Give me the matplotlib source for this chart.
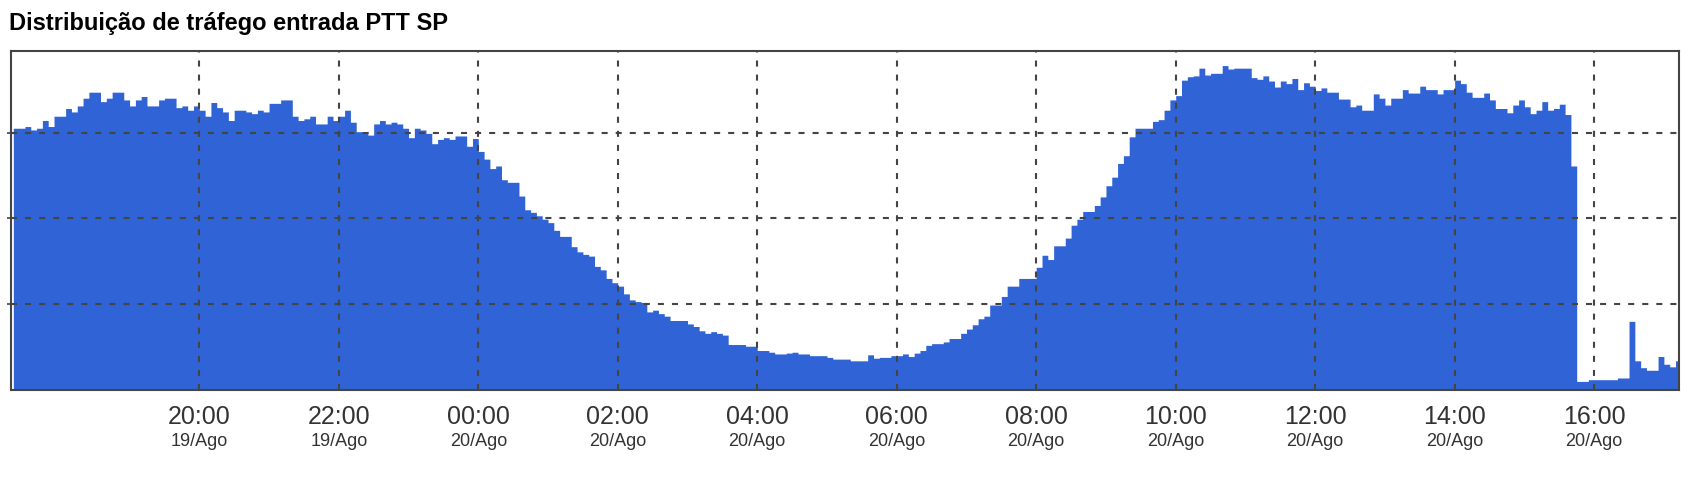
import numpy as np
import pandas as pd
import matplotlib
matplotlib.use("Agg")
import matplotlib.pyplot as plt
import matplotlib.dates as mdates

# Traffic distribution, 5 minute samples (relative units, grid lines at 1, 2, 3)
title = "Distribuição de tráfego entrada PTT SP"
first_sample = "2012-08-19 17:20"
sample_freq = "5min"
x_start = "2012-08-19 17:18"
x_end = "2012-08-20 17:13"

traffic = [
    3.05, 3.05, 3.07, 3.03, 3.05, 3.14, 3.07, 3.19, 3.19, 3.28,
    3.24, 3.31, 3.40, 3.47, 3.47, 3.36, 3.40, 3.47, 3.47, 3.38,
    3.31, 3.38, 3.42, 3.31, 3.31, 3.38, 3.40, 3.40, 3.29, 3.31,
    3.26, 3.31, 3.26, 3.19, 3.35, 3.29, 3.24, 3.14, 3.26, 3.26,
    3.24, 3.22, 3.26, 3.24, 3.34, 3.34, 3.38, 3.38,
    3.19, 3.14, 3.16, 3.19, 3.10, 3.10, 3.19, 3.14, 3.19, 3.26,
    3.12, 3.01, 3.01, 2.97, 3.10, 3.14, 3.10, 3.12, 3.10, 3.05,
    2.94, 3.05, 3.03, 2.99, 2.87, 2.92, 2.94, 2.92, 2.96, 2.96,
    2.84, 2.93, 2.78, 2.69, 2.58, 2.61, 2.45, 2.42, 2.42, 2.26,
    2.10, 2.07, 2.03, 1.99, 1.95, 1.86, 1.79, 1.79,
    1.67, 1.61, 1.58, 1.56, 1.44, 1.40, 1.30, 1.25, 1.21, 1.12,
    1.05, 1.03, 1.02, 0.91, 0.93, 0.89, 0.86, 0.81, 0.81, 0.81,
    0.77, 0.74, 0.69, 0.66, 0.68, 0.66, 0.64, 0.53, 0.53, 0.53,
    0.51, 0.51, 0.46, 0.46, 0.44, 0.42, 0.42, 0.43, 0.44, 0.42,
    0.42, 0.40, 0.40, 0.40, 0.38, 0.36, 0.36, 0.36,
    0.34, 0.34, 0.34, 0.41, 0.37, 0.38, 0.38, 0.40, 0.40, 0.42,
    0.39, 0.43, 0.46, 0.52, 0.54, 0.54, 0.56, 0.60, 0.60, 0.66,
    0.71, 0.76, 0.83, 0.86, 0.99, 0.99, 1.09, 1.21, 1.21, 1.30,
    1.30, 1.30, 1.43, 1.57, 1.52, 1.68, 1.68, 1.77, 1.92, 1.99,
    2.08, 2.08, 2.15, 2.25, 2.38, 2.48, 2.64, 2.73, 2.95,
    3.05, 3.05, 3.05, 3.13, 3.15, 3.26, 3.38, 3.43, 3.61, 3.65,
    3.66, 3.75, 3.67, 3.69, 3.69, 3.78, 3.74, 3.75, 3.75, 3.75,
    3.64, 3.62, 3.66, 3.60, 3.53, 3.60, 3.57, 3.63, 3.50, 3.58,
    3.54, 3.49, 3.52, 3.47, 3.47, 3.39, 3.39, 3.30, 3.32, 3.26,
    3.26, 3.45, 3.40, 3.32, 3.40, 3.40, 3.50, 3.46, 3.46, 3.54,
    3.50, 3.50, 3.45, 3.50, 3.50, 3.61, 3.57, 3.47, 3.41, 3.41,
    3.46, 3.38, 3.28, 3.28, 3.23, 3.32, 3.38, 3.30, 3.22, 3.26,
    3.36, 3.26, 3.28, 3.33, 3.21, 2.61, 0.10, 0.10, 0.12, 0.12,
    0.12, 0.12, 0.12, 0.14, 0.14, 0.80, 0.34, 0.26, 0.23, 0.23,
    0.39, 0.30, 0.27, 0.34,
]

tick_positions = ["2012-08-19 20:00", "2012-08-19 22:00", "2012-08-20 00:00",
                  "2012-08-20 02:00", "2012-08-20 04:00", "2012-08-20 06:00",
                  "2012-08-20 08:00", "2012-08-20 10:00", "2012-08-20 12:00",
                  "2012-08-20 14:00", "2012-08-20 16:00"]
tick_times = ["20:00", "22:00", "00:00", "02:00", "04:00", "06:00",
              "08:00", "10:00", "12:00", "14:00", "16:00"]
tick_dates = ["19/Ago", "19/Ago", "20/Ago", "20/Ago", "20/Ago", "20/Ago",
              "20/Ago", "20/Ago", "20/Ago", "20/Ago", "20/Ago"]
grid_levels = [1, 2, 3]

plt.rcParams['font.family'] = ['Liberation Sans', 'DejaVu Sans']

fig = plt.figure(figsize=(17.04, 4.92), dpi=100)
ax = fig.add_axes([11 / 1704, 1 - 390 / 492, (1679 - 11) / 1704, (390 - 51) / 492])

# step fill, one extra point so the last sample gets its full width
times = pd.date_range(first_sample, periods=len(traffic) + 1, freq=sample_freq)
x = mdates.date2num(times.to_pydatetime())
y = np.append(traffic, traffic[-1])
ax.fill_between(x, y, step="post", color="#3064d6", linewidth=0, zorder=1)

ax.set_xlim(mdates.date2num(pd.Timestamp(x_start)), mdates.date2num(pd.Timestamp(x_end)))
ax.set_ylim(0, 3.95)

ticks = mdates.date2num(pd.to_datetime(tick_positions).to_pydatetime())
ax.set_xticks(ticks)
ax.set_xticklabels([])
ax.set_yticks(grid_levels)
ax.set_yticklabels([])
ax.tick_params(axis="x", length=0)
ax.tick_params(axis="y", length=3, width=1.2, direction="out", color="#444444")

ax.set_axisbelow(False)
ax.grid(True, color="#444444", linestyle=(0, (2.9, 3.85)), linewidth=1.5)

for s in ax.spines.values():
    s.set_color("#444444")
    s.set_linewidth(1.5)

# two-line tick labels: hour, then date in a smaller font
for pos, hhmm, day in zip(ticks, tick_times, tick_dates):
    ax.annotate(hhmm, xy=(pos, 0), xycoords=("data", "axes fraction"),
                xytext=(0, -24.5), textcoords="offset points",
                ha="center", va="baseline", fontsize=18, color="#333333")
    ax.annotate(day, xy=(pos, 0), xycoords=("data", "axes fraction"),
                xytext=(0, -40.3), textcoords="offset points",
                ha="center", va="baseline", fontsize=13, color="#333333")

fig.text(9 / 1704, 1 - 30 / 492, title, fontsize=17, fontweight="bold",
         ha="left", va="baseline", color="black")

fig.savefig("out.png", dpi=100)
